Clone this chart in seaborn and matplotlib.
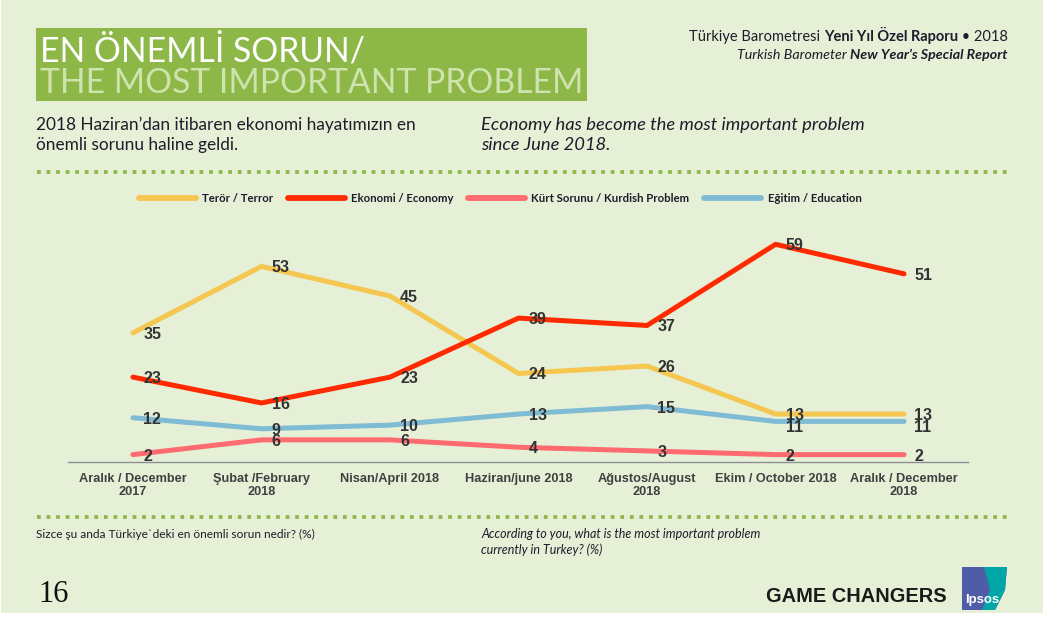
import matplotlib
matplotlib.use('Agg')
import matplotlib.pyplot as plt
from matplotlib.patches import Rectangle, Polygon
import pandas as pd
import seaborn as sns

W, H = 1049, 617

months = ['Aralık / December\n2017', 'Şubat /February\n2018', 'Nisan/April 2018', 'Haziran/june 2018',
          'Ağustos/August\n2018', 'Ekim / October 2018', 'Aralık / December\n2018']
terror = [35, 53, 45, 24, 26, 13, 13]
economy = [23, 16, 23, 39, 37, 59, 51]
kurdish = [2, 6, 6, 4, 3, 2, 2]
education = [12, 9, 10, 13, 15, 11, 11]
series_names = ['Terör / Terror', 'Ekonomi / Economy', 'Kürt Sorunu / Kurdish Problem', 'Eğitim / Education']
series_values = [terror, economy, kurdish, education]
colors = ['#F5C650', '#FF2A00', '#FF6B6E', '#7FBBD3']

BG = '#E6F0D7'
GREEN = '#8DB848'
SANS = 'Lato'
ARIAL = 'Liberation Sans'

rows = []
for name, vals in zip(series_names, series_values):
    for m, v in zip(months, vals):
        rows.append({'month': m, 'value': v, 'series': name})
df = pd.DataFrame(rows)

sns.set_theme(style='white')
plt.rcParams['font.family'] = [SANS, 'DejaVu Sans']

fig = plt.figure(figsize=(W / 100, H / 100), dpi=100, facecolor='white')


def fx(x):
    return x / W


def fy(y):
    return 1 - y / H


def put(x, y, s, **kw):
    kw.setdefault('va', 'center')
    kw.setdefault('family', SANS)
    kw.setdefault('color', '#1d1d2b')
    return fig.text(fx(x), fy(y), s, **kw)


def put_right(x, y, parts, size):
    # chain of text pieces, laid out from the right edge
    r = fig.canvas.get_renderer()
    for s, weight, style in reversed(parts):
        t = put(x, y, s, ha='right', va='baseline', fontsize=size, fontweight=weight, fontstyle=style)
        x -= t.get_window_extent(r).width


fig.patches.append(Rectangle((fx(1), fy(613)), fx(1042), 613 / H, transform=fig.transFigure, fc=BG, ec='none', zorder=-5))
fig.patches.append(Rectangle((fx(36), fy(101)), fx(551), 73 / H, transform=fig.transFigure, fc=GREEN, ec='none', zorder=-4))

# chart
ax = fig.add_axes([fx(68), fy(462), fx(900), 237 / H])
ax.patch.set_alpha(0)
sns.lineplot(data=df, x='month', y='value', hue='series', hue_order=series_names, palette=colors,
             sort=False, errorbar=None, linewidth=3.6, ax=ax, solid_capstyle='round')
ax.set_xlim(-65 / 128.7, 6 + 64 / 128.7)
ax.set_ylim(0, 237 / 3.69)
ax.set_xlabel('')
ax.set_ylabel('')
ax.set_yticks([])
ax.tick_params(axis='x', length=0, pad=8)
for lab in ax.get_xticklabels():
    lab.set_fontfamily(ARIAL)
    lab.set_fontweight('bold')
    lab.set_fontsize(9.2)
    lab.set_color('#404040')
    lab.set_linespacing(1.12)
for side in ['top', 'left', 'right']:
    ax.spines[side].set_visible(False)
ax.spines['bottom'].set_color('#8B9096')
ax.spines['bottom'].set_linewidth(1)

for s, vals in enumerate(series_values):
    for i, v in enumerate(vals):
        # the two 11 labels sit below the blue line in the original
        dy = -4.5 if s == 3 and i >= 5 else -1.0
        ax.annotate(str(v), (i, v), xytext=(7.4, dy), textcoords='offset points', ha='left', va='center',
                    family=ARIAL, fontweight='bold', fontsize=11.5, color='#333333', zorder=5)

handles, labels = ax.get_legend_handles_labels()
leg = ax.legend(handles, labels, ncol=4, frameon=False, loc='center', bbox_to_anchor=(fx(500) * W / 900 - 68 / 900, 1.113),
                handlelength=5.0, handletextpad=0.55, columnspacing=1.3, prop={'family': SANS, 'weight': 'bold', 'size': 8.2})
for t in leg.get_texts():
    t.set_color('#1d1d2b')
for h in leg.get_lines():
    h.set_linewidth(4.2)
    h.set_solid_capstyle('round')

# dotted rules
for y in [172, 517]:
    line = plt.Line2D([fx(37), fx(1009)], [fy(y), fy(y)], transform=fig.transFigure, color=GREEN,
                      linestyle=(0, (1, 1.55)), linewidth=2.7)
    fig.add_artist(line)

# header text
put(40, 51, 'EN ÖNEMLİ SORUN/', color='white', fontsize=24.2)
put(40, 83, 'THE MOST IMPORTANT PROBLEM', color='#CFE3AE', fontsize=24.2)
put(36, 125, '2018 Haziran’dan itibaren ekonomi hayatımızın en', fontsize=12.4)
put(36, 145, 'önemli sorunu haline geldi.', fontsize=12.4)
put(481, 125, 'Economy has become the most important problem', fontsize=13.2, fontstyle='italic')
put(481, 145, 'since June 2018.', fontsize=13.2, fontstyle='italic')
put_right(1008, 41, [('Türkiye Barometresi ', 'normal', 'normal'), ('Yeni Yıl Özel Raporu', 'bold', 'normal'),
                     (' • 2018', 'normal', 'normal')], 10.5)
put_right(1008, 59, [('Turkish Barometer ', 'normal', 'italic'), ('New Year’s Special Report', 'bold', 'italic')], 10.3)

# footer
put(36, 534, 'Sizce şu anda Türkiye`deki en önemli sorun nedir? (%)', fontsize=8.6)
put(481, 534, 'According to you, what is the most important problem', fontsize=9, fontstyle='italic')
put(481, 550, 'currently in Turkey? (%)', fontsize=9, fontstyle='italic')
put(38, 594, '16', family='Liberation Serif', fontsize=22, color='#111111')
put(766, 596, 'GAME CHANGERS', family=ARIAL, fontweight='bold', fontsize=14.4, color='#1a1a1a')

# logo
logo_blue = Polygon([(fx(962), fy(567)), (fx(1007), fy(567)), (fx(1005), fy(590)), (fx(995), fy(610)), (fx(962), fy(610))],
                    transform=fig.transFigure, fc='#4F5DA8', ec='none')
logo_teal = Polygon([(fx(984), fy(567)), (fx(1007), fy(567)), (fx(1005), fy(590)), (fx(995), fy(610)), (fx(982), fy(610)), (fx(990), fy(590))],
                    transform=fig.transFigure, fc='#00A5A6', ec='none')
fig.patches.append(logo_blue)
fig.patches.append(logo_teal)
put(982, 600, 'Ipsos', ha='center', family=ARIAL, fontweight='bold', fontsize=9.5, color='white')

fig.savefig('out.png', dpi=100, facecolor='white')
